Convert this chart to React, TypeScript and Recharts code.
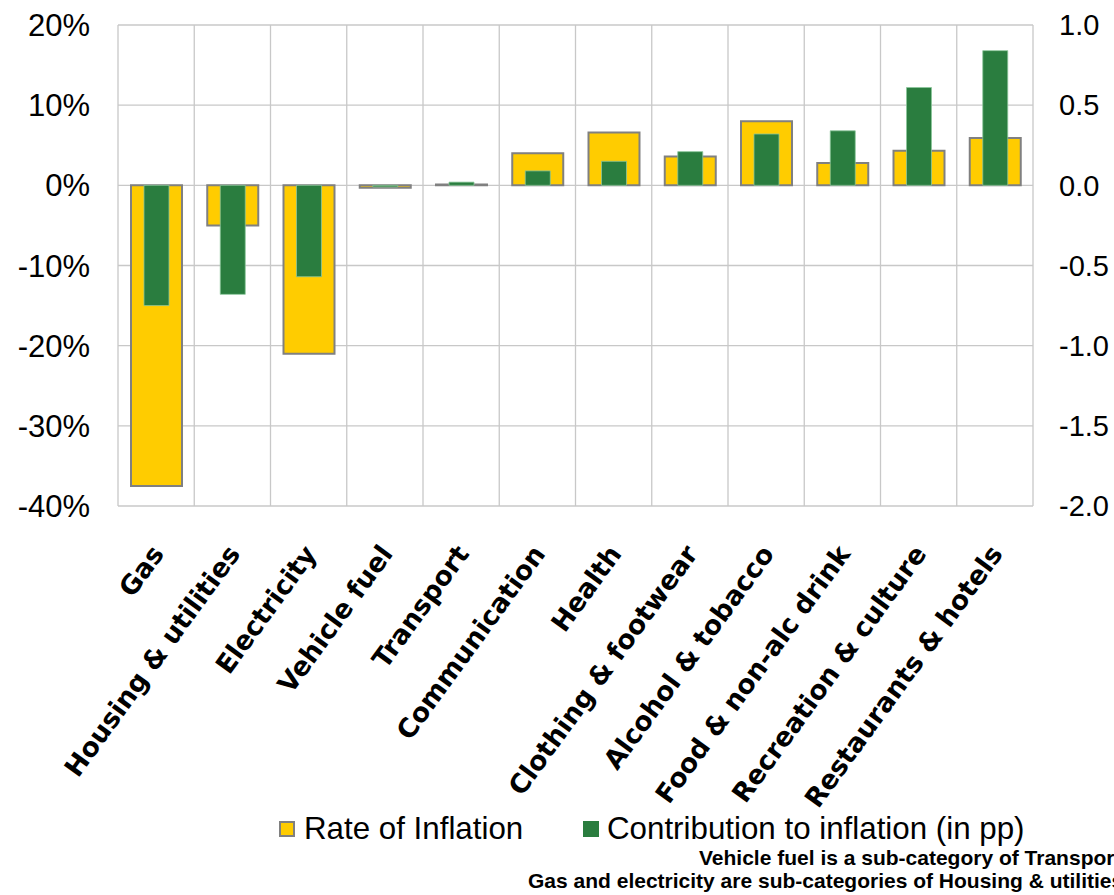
import React from "react";
import {
  BarChart,
  Bar,
  XAxis,
  YAxis,
  CartesianGrid,
} from "recharts";

const categories = [
  "Gas",
  "Housing & utilities",
  "Electricity",
  "Vehicle fuel",
  "Transport",
  "Communication",
  "Health",
  "Clothing & footwear",
  "Alcohol & tobacco",
  "Food & non-alc drink",
  "Recreation & culture",
  "Restaurants & hotels",
];
// % change, left axis
const rateOfInflation = [-37.5, -5.0, -21.0, -0.3, 0.1, 4.0, 6.6, 3.6, 8.0, 2.8, 4.3, 5.9];
// percentage points, right axis
const contribution = [-0.75, -0.68, -0.57, -0.01, 0.02, 0.09, 0.15, 0.21, 0.32, 0.34, 0.61, 0.84];
const leftTicks = [-40, -30, -20, -10, 0, 10, 20];
const rightTicks = [-2, -1.5, -1, -0.5, 0, 0.5, 1];

const data = categories.map((name, i) => ({
  name,
  rate: rateOfInflation[i],
  contrib: contribution[i],
}));

const YELLOW = "#FFCC00";
const GREEN = "#2A7D3F";
const GRID = "#C8C8C8";

const CategoryTick = (props: any) => {
  const { x, y, payload } = props;
  return (
    <g transform={`translate(${x + 9},${y + 46})`}>
      <text
        textAnchor="end"
        transform="rotate(-54)"
        fontFamily="'DejaVu Sans', sans-serif"
        fontWeight="bold"
        fontSize={26.5}
        fill="#000"
      >
        {payload.value}
      </text>
    </g>
  );
};

const boundaryLines = ({ offset }: any) =>
  categories.map((_, i) => offset.left + (i * offset.width) / categories.length)
    .concat([offset.left + offset.width]);

export default function App() {
  return (
    <div
      style={{
        position: "absolute",
        left: 0,
        top: 0,
        width: 1114,
        height: 895,
        overflow: "hidden",
        background: "#fff",
        fontFamily: "'Liberation Sans', Arial, sans-serif",
      }}
    >
      <BarChart
        width={1114}
        height={895}
        data={data}
        margin={{ top: 25, right: 0, left: 0, bottom: 0 }}
      >
        <CartesianGrid
          xAxisId="a"
          yAxisId="left"
          stroke={GRID}
          strokeWidth={1.3}
          verticalCoordinatesGenerator={boundaryLines}
        />
        <XAxis
          xAxisId="a"
          dataKey="name"
          height={389}
          interval={0}
          axisLine={false}
          tickLine={false}
          tickSize={0}
          tick={<CategoryTick />}
        />
        <XAxis xAxisId="b" dataKey="name" hide />
        <YAxis
          yAxisId="left"
          width={118}
          domain={[-40, 20]}
          ticks={leftTicks}
          interval={0}
          axisLine={false}
          tickLine={false}
          tickSize={0}
          tickMargin={28}
          tickFormatter={(v: number) => `${v}%`}
          tick={{ fill: "#000", fontSize: 31, fontFamily: "'Liberation Sans', Arial, sans-serif" }}
        />
        <YAxis
          yAxisId="right"
          orientation="right"
          width={81}
          domain={[-2, 1]}
          ticks={rightTicks}
          interval={0}
          axisLine={false}
          tickLine={false}
          tickSize={0}
          tickMargin={26}
          tickFormatter={(v: number) => v.toFixed(1)}
          tick={{ fill: "#000", fontSize: 29, fontFamily: "'Liberation Sans', Arial, sans-serif" }}
        />
        <Bar
          xAxisId="a"
          yAxisId="left"
          dataKey="rate"
          fill={YELLOW}
          stroke="#808080"
          strokeWidth={2}
          barSize={51}
          isAnimationActive={false}
        />
        <Bar
          xAxisId="b"
          yAxisId="right"
          dataKey="contrib"
          fill={GREEN}
          stroke="#8CC79A"
          strokeWidth={0.8}
          barSize={25}
          isAnimationActive={false}
        />
      </BarChart>

      {/* legend */}
      <div
        style={{
          position: "absolute",
          left: 279,
          top: 821,
          width: 16,
          height: 16,
          boxSizing: "border-box",
          background: YELLOW,
          border: "2px solid #808080",
        }}
      />
      <div style={{ position: "absolute", left: 304, top: 813, fontSize: 31.3, lineHeight: "31px", whiteSpace: "nowrap", color: "#000" }}>
        Rate of Inflation
      </div>
      <div
        style={{
          position: "absolute",
          left: 583,
          top: 821,
          width: 16,
          height: 16,
          background: GREEN,
        }}
      />
      <div style={{ position: "absolute", left: 607, top: 813, fontSize: 31.3, lineHeight: "31px", whiteSpace: "nowrap", color: "#000" }}>
        Contribution to inflation (in pp)
      </div>

      {/* footnotes, clipped at the right edge as in the original slide */}
      <div style={{ position: "absolute", left: 699, top: 847, fontSize: 21, lineHeight: "21px", fontWeight: "bold", whiteSpace: "nowrap", color: "#000" }}>
        Vehicle fuel is a sub-category of Transport
      </div>
      <div style={{ position: "absolute", left: 528, top: 870, fontSize: 21, lineHeight: "21px", fontWeight: "bold", whiteSpace: "nowrap", color: "#000" }}>
        Gas and electricity are sub-categories of Housing &amp; utilities
      </div>
    </div>
  );
}
